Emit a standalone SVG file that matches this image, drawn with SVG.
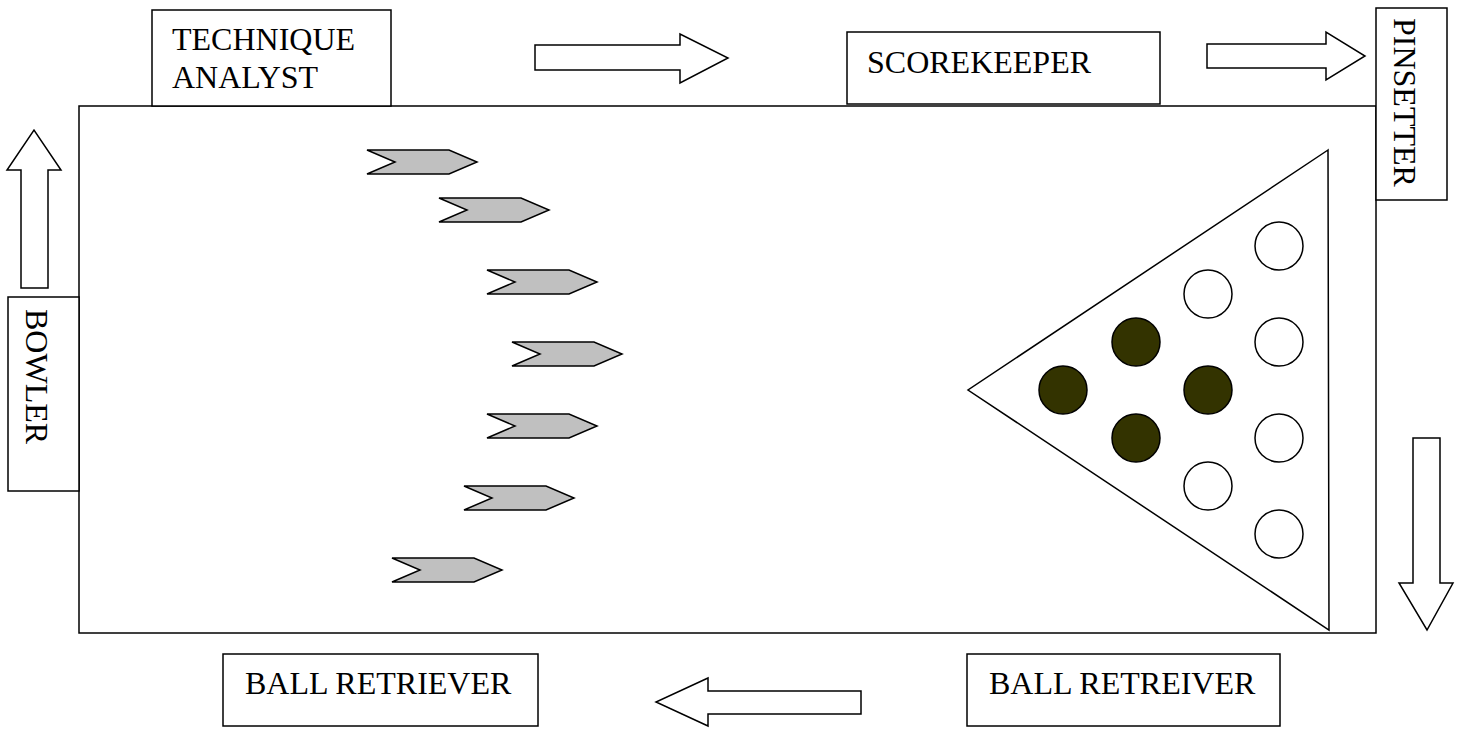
<svg xmlns="http://www.w3.org/2000/svg" width="1464" height="730" viewBox="0 0 1464 730">
  <style>
    .box { fill: #ffffff; stroke: #000000; stroke-width: 1.5; }
    .lbl { font-family: "Liberation Serif", "Times New Roman", serif; font-size: 32px; fill: #000000; }
    .flow { fill: #ffffff; stroke: #000000; stroke-width: 1.5; stroke-linejoin: miter; }
    .chev { fill: #c0c0c0; stroke: #000000; stroke-width: 1.5; }
    .pin { fill: #ffffff; stroke: #000000; stroke-width: 1.5; }
    .down { fill: #333300; stroke: #000000; stroke-width: 1.5; }
  </style>
  <defs>
    <polygon id="chevron" points="0,0 82,0 110,12 82,24 0,24 28,12"/>
  </defs>

  <rect width="1464" height="730" fill="#ffffff"/>

  <!-- lane -->
  <g id="lane">
    <rect class="box" x="79" y="106" width="1297" height="527"/>
  </g>

  <!-- labelled stations around the lane -->
  <g id="technique-analyst">
    <rect class="box" x="152" y="10" width="239" height="96"/>
    <text class="lbl" x="172" y="50">TECHNIQUE</text>
    <text class="lbl" x="172" y="88">ANALYST</text>
  </g>
  <g id="scorekeeper">
    <rect class="box" x="847" y="32" width="313" height="72"/>
    <text class="lbl" x="867" y="73">SCOREKEEPER</text>
  </g>
  <g id="pinsetter">
    <rect class="box" x="1376" y="8" width="71" height="192"/>
    <text class="lbl" transform="translate(1394,18) rotate(90)">PINSETTER</text>
  </g>
  <g id="bowler">
    <rect class="box" x="8" y="297" width="71" height="194"/>
    <text class="lbl" transform="translate(26,309) rotate(90)">BOWLER</text>
  </g>
  <g id="ball-retriever">
    <rect class="box" x="223" y="654" width="315" height="72"/>
    <text class="lbl" x="245" y="694">BALL RETRIEVER</text>
  </g>
  <g id="ball-retreiver">
    <rect class="box" x="967" y="654" width="313" height="72"/>
    <text class="lbl" x="989" y="694">BALL RETREIVER</text>
  </g>

  <!-- block arrows between stations -->
  <g id="connectors">
    <polygon class="flow" points="535,45 680,45 680,34 728,58 680,83 680,70 535,70"/>
    <polygon class="flow" points="1207,44 1326,44 1326,32 1365,56 1326,80 1326,68 1207,68"/>
    <polygon class="flow" points="1413,438 1440,438 1440,583 1453,583 1427,630 1399,583 1413,583"/>
    <polygon class="flow" points="861,691 708,691 708,678 656,702 708,726 708,714 861,714"/>
    <polygon class="flow" points="21,288 21,170 7,170 34,130 61,170 48,170 48,288"/>
  </g>

  <!-- ball path -->
  <g id="ball-path">
    <use href="#chevron" class="chev" x="367" y="150"/>
    <use href="#chevron" class="chev" x="439" y="198"/>
    <use href="#chevron" class="chev" x="487" y="270"/>
    <use href="#chevron" class="chev" x="512" y="342"/>
    <use href="#chevron" class="chev" x="487" y="414"/>
    <use href="#chevron" class="chev" x="464" y="486"/>
    <use href="#chevron" class="chev" x="392" y="558"/>
  </g>

  <!-- pin deck -->
  <g id="pin-deck">
    <polygon points="1328,150 968,390 1329,630" fill="#ffffff" stroke="#000000" stroke-width="1.5"/>
    <circle class="down" cx="1063" cy="390" r="24" stroke="#0000ff" stroke-width="2"/>
    <circle class="down" cx="1136" cy="342" r="24"/>
    <circle class="down" cx="1136" cy="438" r="24"/>
    <circle class="down" cx="1208" cy="390" r="24"/>
    <circle class="pin" cx="1208" cy="294" r="24"/>
    <circle class="pin" cx="1208" cy="486" r="24"/>
    <circle class="pin" cx="1279" cy="246" r="24"/>
    <circle class="pin" cx="1279" cy="342" r="24"/>
    <circle class="pin" cx="1279" cy="438" r="24"/>
    <circle class="pin" cx="1279" cy="534" r="24"/>
  </g>
</svg>
